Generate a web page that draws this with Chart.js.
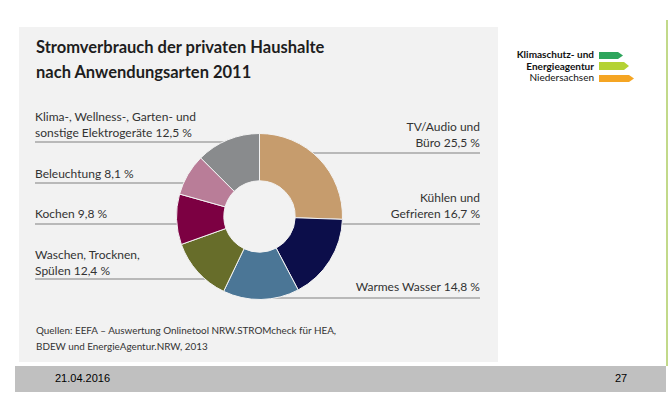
<!DOCTYPE html>
<html>
<head>
<meta charset="utf-8">
<script src="https://cdn.jsdelivr.net/npm/chart.js@4.4.1/dist/chart.umd.min.js"></script>
<style>
  body { margin: 0; width: 669px; height: 394px; background: #fff; position: relative; overflow: hidden; font-family: Lato, "Open Sans", sans-serif; color: #333; }
  .abs { position: absolute; }
  #panel { left: 19px; top: 27px; width: 479px; height: 335px; background: #f2f2f2; }
  #title { left: 36px; top: 35px; font-weight: bold; font-size: 16.5px; line-height: 25px; color: #1e1e1e; }
  .lbl { font-size: 12px; line-height: 16px; white-space: nowrap; }
  .r { text-align: right; }
  #src { left: 36px; top: 322px; font-size: 9.9px; line-height: 16px; color: #333; }
  #chartWrap { left: 0; top: 0; width: 669px; height: 394px; }
  #footer { left: 15px; top: 366px; width: 651px; height: 26px; background: #c0c0c0; font-family: Arial, "Liberation Sans", sans-serif; font-size: 11px; color: #000; }
  #vline { left: 666px; top: 20px; width: 2px; height: 346px; background: #c2d98a; }
  .logo { font-size: 10px; line-height: 11.5px; text-align: right; color: #111; }
</style>
</head>
<body>
<div id="panel" class="abs"></div>
<div id="title" class="abs">Stromverbrauch der privaten Haushalte<br>nach Anwendungsarten 2011</div>

<div class="abs lbl" style="left:35px; top:109px;">Klima-, Wellness-, Garten- und<br>sonstige Elektrogeräte 12,5 %</div>
<div class="abs lbl" style="left:35px; top:166px;">Beleuchtung 8,1 %</div>
<div class="abs lbl" style="left:35px; top:206px;">Kochen 9,8 %</div>
<div class="abs lbl" style="left:35px; top:247px;">Waschen, Trocknen,<br>Spülen 12,4 %</div>

<div class="abs lbl r" style="right:189px; top:119px;">TV/Audio und<br>Büro 25,5 %</div>
<div class="abs lbl r" style="right:189px; top:190px;">Kühlen und<br>Gefrieren 16,7 %</div>
<div class="abs lbl r" style="right:189px; top:279px;">Warmes Wasser 14,8 %</div>

<div id="src" class="abs">Quellen: EEFA – Auswertung Onlinetool NRW.STROMcheck für HEA,<br>BDEW und EnergieAgentur.NRW, 2013</div>

<div class="abs logo" style="right:75px; top:49px;"><b>Klimaschutz- und</b><br><b>Energieagentur</b><br>Niedersachsen</div>
<svg class="abs" style="left:599px; top:50px;" width="40" height="34">
  <polygon points="0,2 19,2 24,5.5 19,9 0,9" fill="#2da55c"/>
  <polygon points="0,12 25,12 30,16 25,20 0,20" fill="#b4d233"/>
  <polygon points="0,25 30,25 35,28.5 30,32 0,32" fill="#f5a523"/>
</svg>

<div id="vline" class="abs"></div>
<div id="footer" class="abs">
  <span class="abs" style="left:40px; top:6px;">21.04.2016</span>
  <span class="abs" style="left:600px; top:6px;">27</span>
</div>

<div id="chartWrap" class="abs"><canvas id="chart"></canvas></div>

<script>
const categories = ['TV/Audio und Büro', 'Kühlen und Gefrieren', 'Warmes Wasser', 'Waschen, Trocknen, Spülen', 'Kochen', 'Beleuchtung', 'Klima-, Wellness-, Garten- und sonstige Elektrogeräte'];
const shares = [25.5, 16.7, 14.8, 12.4, 9.8, 8.1, 12.5];
const sliceColors = ['#c69c6d', '#0c0e4a', '#4b7696', '#676d2a', '#7c0042', '#b97d98', '#898b8d'];

// leader lines: y position, side, outer x end
const leaders = [
  { y: 153, side: 'right', x: 480 },
  { y: 224, side: 'right', x: 480 },
  { y: 298, side: 'right', x: 480 },
  { y: 279, side: 'left', x: 35 },
  { y: 224, side: 'left', x: 35 },
  { y: 183, side: 'left', x: 35 },
  { y: 142, side: 'left', x: 35 }
];

const leaderPlugin = {
  id: 'leaders',
  beforeDatasetsDraw(chart) {
    const arc = chart.getDatasetMeta(0).data[0];
    if (!arc) return;
    const { x: cx, y: cy, outerRadius: r } = arc.getProps(['x', 'y', 'outerRadius'], true);
    const ctx = chart.ctx;
    ctx.save();
    ctx.strokeStyle = '#a6a6a6';
    ctx.lineWidth = 1.5;
    leaders.forEach(l => {
      const dy = l.y - cy;
      const dx = Math.sqrt(Math.max(r * r - dy * dy, 0));
      const edge = l.side === 'left' ? cx - dx + 3 : cx + dx - 3;
      ctx.beginPath();
      ctx.moveTo(l.x, l.y);
      ctx.lineTo(edge, l.y);
      ctx.stroke();
    });
    ctx.restore();
  }
};

new Chart(document.getElementById('chart'), {
  type: 'doughnut',
  data: {
    labels: categories,
    datasets: [{
      data: shares,
      backgroundColor: sliceColors,
      borderColor: '#f2f2f2',
      borderWidth: 1
    }]
  },
  options: {
    responsive: true,
    maintainAspectRatio: false,
    animation: false,
    cutout: '43%',
    layout: { padding: { left: 176, right: 326, top: 133, bottom: 94 } },
    plugins: { legend: { display: false }, tooltip: { enabled: false } }
  },
  plugins: [leaderPlugin]
});
</script>
</body>
</html>
